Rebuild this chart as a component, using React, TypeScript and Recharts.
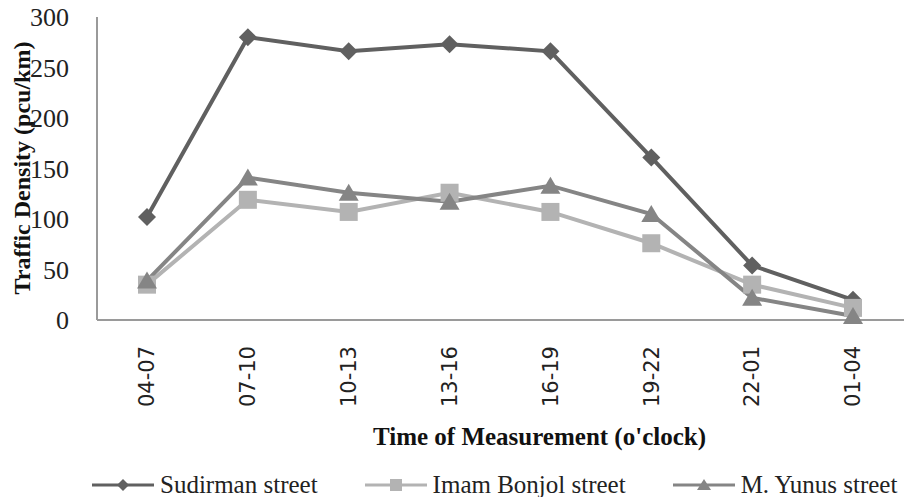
import { LineChart, Line, XAxis, YAxis, Legend, Label } from "recharts"

const times = ["04-07", "07-10", "10-13", "13-16", "16-19", "19-22", "22-01", "01-04"]
const sudirman = [102, 280, 266, 273, 266, 161, 54, 20]
const imamBonjol = [35, 119, 107, 126, 107, 76, 35, 12]
const mYunus = [39, 141, 126, 117, 133, 105, 22, 4]
const yTicks = [0, 50, 100, 150, 200, 250, 300]

const names = ["Sudirman street", "Imam Bonjol street", "M. Yunus street"]
const colors = ["#606060", "#b3b3b3", "#858585"]
const shapes = ["diamond", "square", "triangle"]

const data = times.map((t, i) => ({
  time: t,
  sudirman: sudirman[i],
  imamBonjol: imamBonjol[i],
  mYunus: mYunus[i],
}))

const serif = "Liberation Serif, serif"

const Marker = ({ cx, cy, shape, color, size }: any) => {
  if (cx == null || cy == null) return null
  const h = size / 2
  if (shape === "diamond") {
    return <polygon points={`${cx},${cy - h} ${cx + h},${cy} ${cx},${cy + h} ${cx - h},${cy}`} fill={color} />
  }
  if (shape === "square") {
    return <rect x={cx - h} y={cy - h} width={size} height={size} fill={color} />
  }
  return <polygon points={`${cx},${cy - h} ${cx + h + 1},${cy + h - 1} ${cx - h - 1},${cy + h - 1}`} fill={color} />
}

const makeDot = (idx: number) => (props: any) => (
  <Marker key={`${idx}-${props.index}`} cx={props.cx} cy={props.cy} shape={shapes[idx]} color={colors[idx]} size={18} />
)

const XTick = ({ x, y, payload }: any) => (
  <text
    x={x}
    y={y}
    transform={`rotate(-90, ${x}, ${y})`}
    textAnchor="end"
    dy="0.35em"
    dx={-18}
    fontFamily="DejaVu Sans, sans-serif"
    fontSize={21}
    fill="#222"
  >
    {payload.value}
  </text>
)

const YTitle = () => (
  <text
    x={22}
    y={168}
    transform="rotate(-90, 22, 168)"
    textAnchor="middle"
    dominantBaseline="central"
    fontFamily={serif}
    fontWeight="bold"
    fontSize={24}
    fill="#111"
  >
    Traffic Density  (pcu/km)
  </text>
)

const LegendBox = () => (
  <div style={{ display: "flex", gap: 47, fontFamily: serif, fontSize: 25, color: "#222", marginTop: 4 }}>
    {names.map((n, i) => (
      <div key={n} style={{ display: "flex", alignItems: "center" }}>
        <svg width={62} height={20}>
          <line x1={0} y1={10} x2={62} y2={10} stroke={colors[i]} strokeWidth={3} />
          <Marker cx={31} cy={10} shape={shapes[i]} color={colors[i]} size={12} />
        </svg>
        <span style={{ marginLeft: 6, whiteSpace: "nowrap" }}>{n}</span>
      </div>
    ))}
  </div>
)

export default function App() {
  return (
    <div style={{ position: "absolute", left: 0, top: 0 }}>
      <LineChart width={917} height={497} data={data} margin={{ top: 17, right: 13, left: 0, bottom: 0 }}>
        <XAxis
          dataKey="time"
          height={147}
          interval={0}
          padding={{ left: 50, right: 51 }}
          tickLine={false}
          axisLine={{ stroke: "#9a9a9a", strokeWidth: 2 }}
          tick={<XTick />}
        >
          <Label
            value="Time of Measurement (o'clock)"
            position="insideBottom"
            offset={22}
            dx={39}
            style={{ fontFamily: serif, fontWeight: "bold", fontSize: 25, fill: "#111" }}
          />
        </XAxis>
        <XAxis xAxisId="top" dataKey="time" orientation="top" height={0} tick={false} tickLine={false} axisLine={{ stroke: "#333", strokeWidth: 2 }} />
        <YAxis
          width={97}
          domain={[0, 300]}
          ticks={yTicks}
          tickLine={false}
          axisLine={{ stroke: "#9a9a9a", strokeWidth: 2 }}
          tick={{ fontFamily: serif, fontSize: 26, fill: "#222" }}
          tickMargin={22}
        >
          <Label content={<YTitle />} />
        </YAxis>
        <YAxis yAxisId="right" orientation="right" width={0} domain={[0, 300]} tick={false} tickLine={false} axisLine={{ stroke: "#333", strokeWidth: 2 }} />
        <Legend verticalAlign="bottom" wrapperStyle={{ left: 92, width: 830, height: 30 }} content={<LegendBox />} />
        <Line dataKey="sudirman" name={names[0]} stroke={colors[0]} strokeWidth={4} dot={makeDot(0)} activeDot={false} isAnimationActive={false} />
        <Line dataKey="imamBonjol" name={names[1]} stroke={colors[1]} strokeWidth={4} dot={makeDot(1)} activeDot={false} isAnimationActive={false} />
        <Line dataKey="mYunus" name={names[2]} stroke={colors[2]} strokeWidth={4} dot={makeDot(2)} activeDot={false} isAnimationActive={false} />
      </LineChart>
    </div>
  )
}
